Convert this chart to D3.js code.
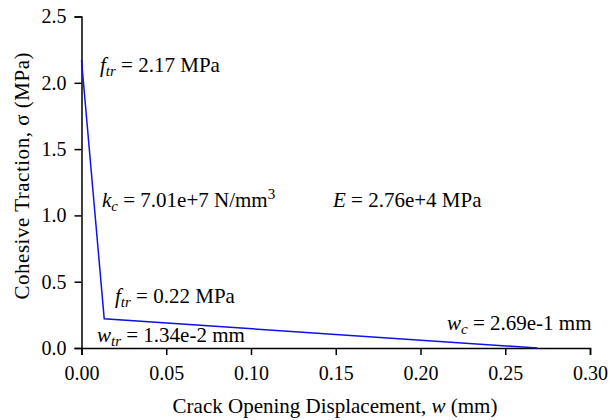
<!DOCTYPE html>
<html><head><meta charset="utf-8">
<script src="https://cdn.jsdelivr.net/npm/d3@7"></script>
<style>body{margin:0;background:#fff}text{font-family:"Liberation Serif","Times New Roman",serif;fill:#000}</style>
</head><body><svg id="c" width="610" height="420"></svg>
<script>
const wValues = [0, 0.0134, 0.269];
const sigmaValues = [2.17, 0.22, 0];
const xTicks = [0, 0.05, 0.10, 0.15, 0.20, 0.25, 0.30];
const yTicks = [0, 0.5, 1.0, 1.5, 2.0, 2.5];

const svg = d3.select("#c");
const x = d3.scaleLinear().domain([0, 0.30]).range([81.5, 590]);
const y = d3.scaleLinear().domain([0, 2.5]).range([348, 16.5]);

const xa = svg.append("g").attr("transform", "translate(0,348)")
  .call(d3.axisBottom(x).tickValues(xTicks).tickFormat(d3.format(".2f")).tickSizeOuter(0).tickSize(7).tickPadding(11));
const ya = svg.append("g").attr("transform", "translate(81.5,0)")
  .call(d3.axisLeft(y).tickValues(yTicks).tickFormat(d3.format(".1f")).tickSizeOuter(0).tickSize(7).tickPadding(8));
[xa, ya].forEach(a => {
  a.selectAll("path,line").attr("stroke", "#000").attr("stroke-width", 1.5);
  a.selectAll("text").style("font-family", '"Liberation Serif",serif').style("font-size", "20px").attr("fill", "#000");
});

svg.append("path").datum(wValues.map((w, i) => [w, sigmaValues[i]]))
  .attr("fill", "none").attr("stroke", "#1010ee").attr("stroke-width", 1.5)
  .attr("d", d3.line().x(d => x(d[0])).y(d => y(d[1])));

svg.append("text").attr("x", 335).attr("y", 413).attr("text-anchor", "middle").style("font-size", "21px")
  .html('Crack Opening Displacement, <tspan font-style="italic">w</tspan> (mm)');
svg.append("text").attr("transform", "translate(29,176) rotate(-90)").attr("text-anchor", "middle").style("font-size", "21px")
  .attr("textLength", 247).attr("lengthAdjust", "spacing")
  .text("Cohesive Traction, σ (MPa)");

function label(px, py, html) {
  svg.append("text").attr("x", px).attr("y", py).style("font-size", "21px").html(html);
}
label(100, 72, '<tspan font-style="italic">f</tspan><tspan font-style="italic" font-size="15px" dy="4">tr</tspan><tspan dy="-4"> = 2.17 MPa</tspan>');
label(102, 207, '<tspan font-style="italic">k</tspan><tspan font-style="italic" font-size="15px" dy="4">c</tspan><tspan dy="-4"> = 7.01e+7 N/mm</tspan><tspan font-size="15px" dy="-8">3</tspan>');
label(333, 207, '<tspan font-style="italic">E</tspan> = 2.76e+4 MPa');
label(115, 303, '<tspan font-style="italic">f</tspan><tspan font-style="italic" font-size="15px" dy="4">tr</tspan><tspan dy="-4"> = 0.22 MPa</tspan>');
label(97, 342, '<tspan font-style="italic">w</tspan><tspan font-style="italic" font-size="15px" dy="4">tr</tspan><tspan dy="-4"> = 1.34e-2 mm</tspan>');
label(447, 330, '<tspan font-style="italic">w</tspan><tspan font-style="italic" font-size="15px" dy="4">c</tspan><tspan dy="-4"> = 2.69e-1 mm</tspan>');
</script></body></html>
